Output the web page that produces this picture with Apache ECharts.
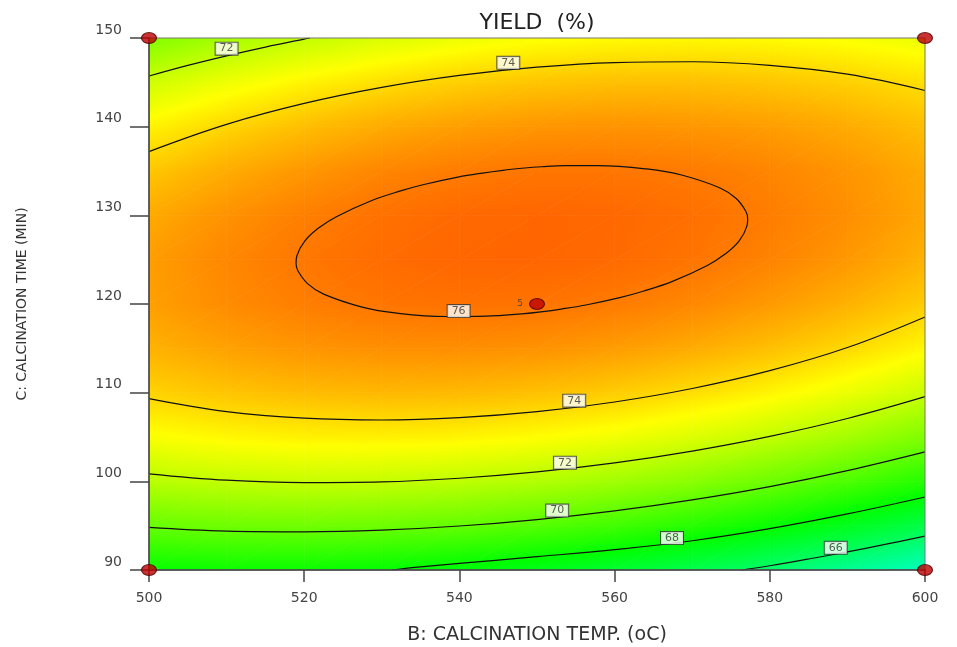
<!DOCTYPE html>
<html>
<head>
<meta charset="utf-8">
<title>YIELD (%) contour</title>
<script src="https://cdn.jsdelivr.net/npm/echarts@6/dist/echarts.min.js"></script>
<style>
html,body{margin:0;padding:0;background:#fff;}
#chart{width:957px;height:647px;}
</style>
</head>
<body>
<div id="chart"></div>
<script>
// ---------------- data ----------------
const xTicks = [500, 520, 540, 560, 580, 600];          // B: calcination temp (oC)
const yTicks = [90, 100, 110, 120, 130, 140, 150];       // C: calcination time (min)

// estimated yield (%) on a node grid: rows = times, columns = temps
const gridTemps = [500, 510, 520, 530, 540, 550, 560, 570, 580, 590, 600];
const gridTimes = [90, 95, 100, 105, 110, 115, 120, 125, 130, 135, 140, 145, 150];
const yieldGrid = [
  [68.12, 68.22, 68.20, 68.07, 67.83, 67.47, 67.01, 66.44, 65.75, 64.96, 64.05],
  [70.11, 70.25, 70.28, 70.20, 70.02, 69.72, 69.31, 68.78, 68.15, 67.41, 66.55],
  [71.77, 71.96, 72.05, 72.02, 71.88, 71.64, 71.28, 70.81, 70.23, 69.54, 68.73],
  [73.10, 73.35, 73.49, 73.51, 73.43, 73.23, 72.93, 72.51, 71.98, 71.34, 70.59],
  [74.12, 74.42, 74.61, 74.68, 74.65, 74.51, 74.25, 73.89, 73.41, 72.82, 72.12],
  [74.81, 75.16, 75.40, 75.53, 75.55, 75.46, 75.26, 74.94, 74.52, 73.98, 73.34],
  [75.18, 75.59, 75.88, 76.06, 76.13, 76.09, 75.94, 75.68, 75.30, 74.82, 74.23],
  [75.23, 75.69, 76.03, 76.26, 76.39, 76.40, 76.30, 76.09, 75.77, 75.34, 74.79],
  [74.96, 75.46, 75.86, 76.15, 76.32, 76.39, 76.34, 76.18, 75.91, 75.53, 75.04],
  [74.36, 74.92, 75.37, 75.71, 75.93, 76.05, 76.05, 75.95, 75.73, 75.40, 74.96],
  [73.44, 74.05, 74.56, 74.94, 75.22, 75.39, 75.45, 75.39, 75.23, 74.95, 74.56],
  [72.20, 72.87, 73.42, 73.86, 74.19, 74.41, 74.52, 74.52, 74.40, 74.18, 73.84],
  [70.64, 71.36, 71.96, 72.45, 72.84, 73.11, 73.27, 73.32, 73.25, 73.08, 72.80]
];

// contour lines [temp, time]
const contour66 = [[576.4,90],[580,90.48],[585,91.24],[590,92.05],[595,92.91],[600,93.83]];
const contour68 = [[531.3,90],[535,90.35],[540,90.75],[550,91.5],[560,92.3],[570,93.3],[580,94.66],[590,96.32],[600,98.23]];
const contour70 = [[500,94.8],[510,94.38],[520,94.3],[530,94.49],[540,94.96],[550,95.69],[560,96.67],[570,97.91],[580,99.41],[590,101.21],[600,103.32]];
const contour72Low = [[500,100.85],[510,100.13],[520,99.86],[530,99.94],[540,100.35],[550,101.06],[560,102.08],[570,103.41],[580,105.07],[590,107.09],[600,109.55]];
const contour72High = [[500,145.71],[505,146.91],[510,147.99],[515,148.98],[520,149.88],[520.75,150]];
const contour74Low = [[500,109.33],[510,107.86],[520,107.12],[530,106.92],[540,107.18],[550,107.86],[560,108.95],[570,110.47],[580,112.48],[590,115.09],[600,118.54]];
const contour74High = [[500,137.19],[510,140.26],[520,142.62],[530,144.43],[540,145.78],[550,146.71],[560,147.23],[570,147.32],[580,146.92],[590,145.92],[600,144.08]];
const contour76 = [[548.05,135.31],[545.61,135.08],[542.99,134.77],[539.81,134.31],[535.43,133.48],[532.43,132.76],[528.64,131.65],[524.15,129.85],[521.90,128.60],[520.07,127.10],[519.06,125.44],[518.95,124.6],[519.17,123.77],[520.43,122.30],[522.51,121.11],[527.47,119.65],[531.95,118.97],[538.32,118.59],[542.44,118.60],[545.49,118.72],[548.05,118.89],[550.49,119.12],[553.11,119.43],[556.29,119.89],[560.67,120.72],[563.67,121.44],[567.46,122.55],[571.95,124.35],[574.20,125.60],[576.03,127.10],[577.04,128.76],[577.15,129.6],[576.93,130.43],[575.67,131.90],[573.59,133.09],[568.63,134.55],[564.15,135.23],[557.78,135.61],[553.66,135.60],[550.61,135.48],[548.05,135.31]];

// contour label positions [temp, time, text]
const contourLabels = [[510.0,148.8,'72'],[546.3,147.2,'74'],[539.9,119.2,'76'],[554.8,109.1,'74'],[553.6,102.1,'72'],[552.6,96.7,'70'],[567.4,93.6,'68'],[588.5,92.5,'66']];

// design points [temp, time] and their labels
const designPoints = [[500,90],[600,90],[500,150],[600,150],[550,120]];
const designLabels = ['', '', '', '', '5'];

// ---------------- colour scale ----------------
const scaleValues = [57.4, 62.7, 68.0, 73.2, 78.5];
const scaleRGB = [[0,0,255],[0,255,255],[0,255,0],[255,255,0],[255,0,0]];
function colorOf(v) {
  if (v <= scaleValues[0]) return 'rgb(' + scaleRGB[0].join(',') + ')';
  const n = scaleValues.length;
  if (v >= scaleValues[n - 1]) return 'rgb(' + scaleRGB[n - 1].join(',') + ')';
  let k = 0;
  while (v > scaleValues[k + 1]) k++;
  const f = (v - scaleValues[k]) / (scaleValues[k + 1] - scaleValues[k]);
  const a = scaleRGB[k], b = scaleRGB[k + 1];
  return 'rgb(' + Math.round(a[0] + (b[0] - a[0]) * f) + ',' +
    Math.round(a[1] + (b[1] - a[1]) * f) + ',' + Math.round(a[2] + (b[2] - a[2]) * f) + ')';
}
function triangleFill(p, v) {
  const e1x = p[1][0] - p[0][0], e1y = p[1][1] - p[0][1];
  const e2x = p[2][0] - p[0][0], e2y = p[2][1] - p[0][1];
  const d1 = v[1] - v[0], d2 = v[2] - v[0];
  const det = e1x * e2y - e1y * e2x;
  const lo = Math.min(v[0], v[1], v[2]), hi = Math.max(v[0], v[1], v[2]);
  if (Math.abs(det) < 1e-9 || hi - lo < 1e-6) return colorOf(v[0]);
  const ax = (d1 * e2y - e1y * d2) / det;
  const ay = (e1x * d2 - d1 * e2x) / det;
  const g2 = ax * ax + ay * ay;
  if (g2 < 1e-12) return colorOf(v[0]);
  const stops = [{ offset: 0, color: colorOf(lo) }];
  scaleValues.forEach(function (k) {
    if (k > lo && k < hi) stops.push({ offset: (k - lo) / (hi - lo), color: colorOf(k) });
  });
  stops.push({ offset: 1, color: colorOf(hi) });
  return {
    type: 'linear', global: true,
    x: p[0][0] + (lo - v[0]) * ax / g2, y: p[0][1] + (lo - v[0]) * ay / g2,
    x2: p[0][0] + (hi - v[0]) * ax / g2, y2: p[0][1] + (hi - v[0]) * ay / g2,
    colorStops: stops
  };
}
function triangle(p, v) {
  return {
    type: 'polygon', silent: true,
    shape: { points: p },
    style: { fill: triangleFill(p, v), stroke: triangleFill(p, v), lineWidth: 0.7 }
  };
}

// cells of the node grid for the custom series
const cells = [];
for (let j = 0; j < gridTimes.length - 1; j++) {
  for (let i = 0; i < gridTemps.length - 1; i++) {
    cells.push([gridTemps[i], gridTimes[j], gridTemps[i + 1], gridTimes[j + 1], i, j]);
  }
}

const FONT = 'DejaVu Sans';
function contourSeries(data) {
  return {
    type: 'line', data: data, symbol: 'none', smooth: 0.4, silent: true, clip: true, z: 3,
    lineStyle: { color: '#111', width: 1.2 }
  };
}

const chart = echarts.init(document.getElementById('chart'), null, { renderer: 'canvas' });
const option = {
  animation: false,
  backgroundColor: '#ffffff',
  title: {
    text: 'YIELD  (%)', left: 532, top: 7, textAlign: 'center',
    textStyle: { fontFamily: FONT, fontSize: 22, fontWeight: 'normal', color: '#222' }
  },
  grid: {
    left: 149, right: 32, top: 38, bottom: 77, containLabel: false, outerBoundsMode: 'none',
    show: true, backgroundColor: 'transparent', borderColor: '#777', borderWidth: 1, z: 5
  },
  xAxis: {
    type: 'value', min: xTicks[0], max: xTicks[xTicks.length - 1], interval: xTicks[1] - xTicks[0], z: 6,
    name: 'B: CALCINATION TEMP. (oC)', nameLocation: 'middle', nameGap: 56,
    nameTextStyle: { fontFamily: FONT, fontSize: 19, color: '#333' },
    axisLine: { show: true, onZero: false, lineStyle: { color: '#444', width: 1.5 } },
    axisTick: { show: true, length: 12, lineStyle: { color: '#444', width: 1.5 } },
    axisLabel: { margin: 21, fontFamily: FONT, fontSize: 14, color: '#444' },
    splitLine: { show: false }
  },
  yAxis: {
    type: 'value', min: yTicks[0], max: yTicks[yTicks.length - 1], interval: yTicks[1] - yTicks[0], z: 6,
    name: 'C: CALCINATION TIME (MIN)', nameLocation: 'middle', nameGap: 120,
    nameTextStyle: { fontFamily: FONT, fontSize: 14, color: '#333' },
    axisLine: { show: true, onZero: false, lineStyle: { color: '#444', width: 1.5 } },
    axisTick: { show: true, length: 19, lineStyle: { color: '#444', width: 1.5 } },
    axisLabel: { margin: 27, fontFamily: FONT, fontSize: 14, color: '#444', verticalAlign: 'bottom', lineHeight: 16 },
    splitLine: { show: false }
  },
  series: [
    {
      type: 'custom', data: cells, silent: true, clip: true, z: 1,
      encode: { x: [0, 2], y: [1, 3] },
      renderItem: function (params, api) {
        const i = api.value(4), j = api.value(5);
        const p00 = api.coord([gridTemps[i], gridTimes[j]]);
        const p10 = api.coord([gridTemps[i + 1], gridTimes[j]]);
        const p01 = api.coord([gridTemps[i], gridTimes[j + 1]]);
        const p11 = api.coord([gridTemps[i + 1], gridTimes[j + 1]]);
        const v00 = yieldGrid[j][i], v10 = yieldGrid[j][i + 1];
        const v01 = yieldGrid[j + 1][i], v11 = yieldGrid[j + 1][i + 1];
        return {
          type: 'group',
          children: [
            triangle([p00, p10, p11], [v00, v10, v11]),
            triangle([p00, p11, p01], [v00, v11, v01])
          ]
        };
      }
    },
    contourSeries(contour66),
    contourSeries(contour68),
    contourSeries(contour70),
    contourSeries(contour72Low),
    contourSeries(contour72High),
    contourSeries(contour74Low),
    contourSeries(contour74High),
    contourSeries(contour76),
    {
      type: 'scatter', data: contourLabels, symbol: 'rect', symbolSize: 0.1, silent: true, z: 8,
      itemStyle: { color: 'transparent' },
      label: {
        show: true, position: 'inside', formatter: function (p) { return p.value[2]; },
        backgroundColor: '#fff', borderColor: '#333', borderWidth: 1, padding: [1, 4, 0, 4],
        fontFamily: FONT, fontSize: 11, lineHeight: 11, color: '#333'
      }
    },
    {
      type: 'scatter', clip: false, silent: true, z: 20,
      symbol: 'circle', symbolSize: [15, 11],
      itemStyle: { color: '#bb0000', borderColor: '#4a0000', borderWidth: 1 },
      data: designPoints.map(function (p, k) {
        return {
          value: p,
          label: { show: designLabels[k] !== '', formatter: designLabels[k], position: 'left', distance: 6,
            fontFamily: FONT, fontSize: 9, color: '#333' }
        };
      })
    }
  ]
};
chart.setOption(option);
</script>
</body>
</html>
